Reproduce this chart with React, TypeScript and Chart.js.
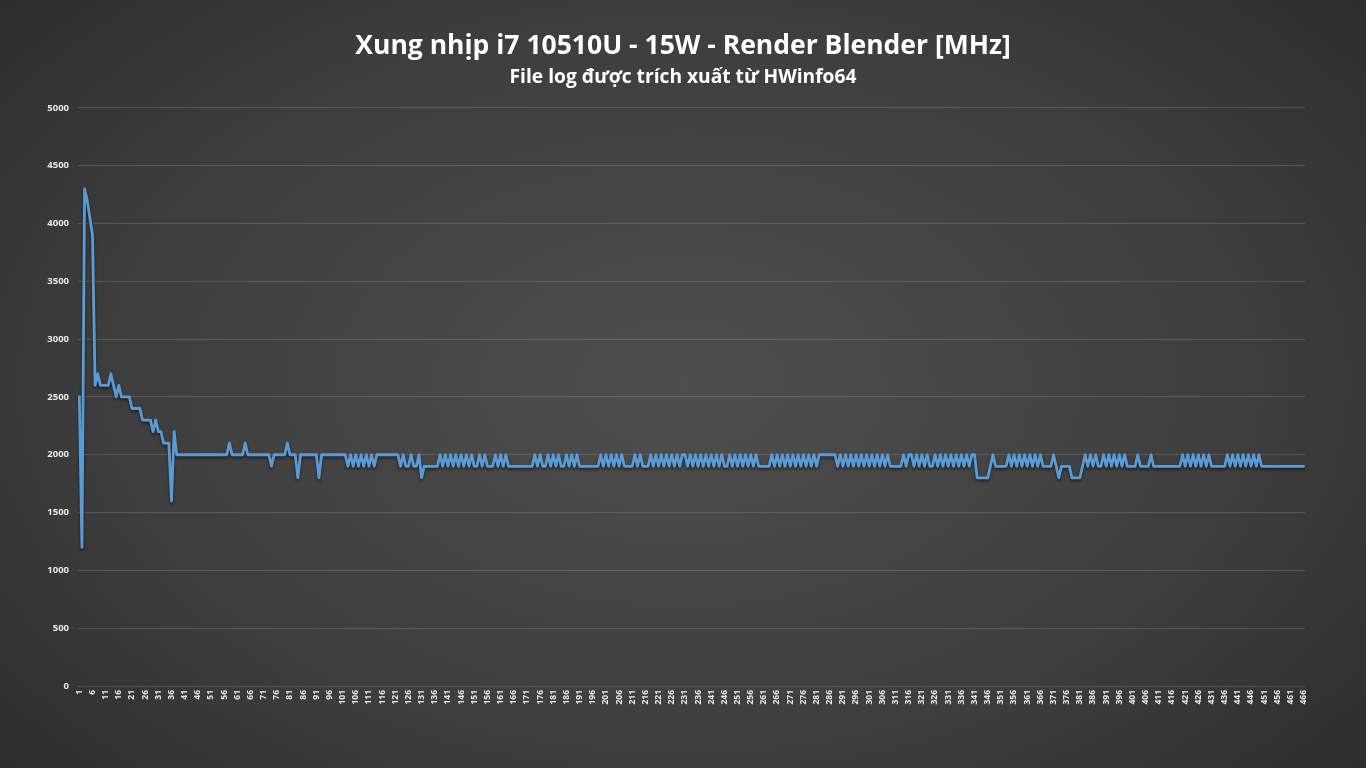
import React, { useEffect, useRef } from "react";
import { Chart, registerables } from "chart.js";

Chart.register(...registerables);

const chartTitle = "Xung nhịp i7 10510U - 15W - Render Blender [MHz]";
const chartSubtitle = "File log được trích xuất từ HWinfo64";

const yTicks = [0, 500, 1000, 1500, 2000, 2500, 3000, 3500, 4000, 4500, 5000];

// Core clock samples (MHz)
const clockBoost = [
  2500, 1200, 4300, 4200, 4050, 3900, 2600, 2700, 2600, 2600,
  2600, 2600, 2700, 2600, 2500, 2600, 2500, 2500, 2500, 2500,
  2400, 2400, 2400, 2400, 2300, 2300, 2300, 2300, 2200, 2300,
  2200, 2200, 2100, 2100, 2100, 1600, 2200, 2000, 2000, 2000,
];
const clockSettle = [
  2000, 2000, 2000, 2000, 2000, 2000, 2000, 2000, 2000, 2000,
  2000, 2000, 2000, 2000, 2000, 2000, 2000, 2100, 2000, 2000,
  2000, 2000, 2000, 2100, 2000, 2000, 2000, 2000, 2000, 2000,
  2000, 2000, 2000, 1900, 2000, 2000, 2000, 2000, 2000, 2100,
  2000, 2000, 2000, 1800, 2000, 2000, 2000, 2000, 2000, 2000,
  2000, 1800, 2000, 2000, 2000, 2000, 2000, 2000, 2000, 2000,
];
const clockPartC = [
  2000, 2000, 1900, 2000, 1900, 2000, 1900, 2000, 1900, 2000,
  1900, 2000, 1900, 2000, 2000, 2000, 2000, 2000, 2000, 2000,
  2000, 2000, 1900, 2000, 1900, 1900, 2000, 1900, 1900, 2000,
  1800, 1900, 1900, 1900, 1900, 1900, 1900, 2000, 1900, 2000,
  1900, 2000, 1900, 2000, 1900, 2000, 1900, 2000, 1900, 2000,
  1900, 1900, 2000, 1900, 2000, 1900, 1900, 1900, 2000, 1900,
];
const clockPartD = [
  2000, 1900, 2000, 1900, 1900, 1900, 1900, 1900, 1900, 1900,
  1900, 1900, 1900, 2000, 1900, 2000, 1900, 1900, 2000, 1900,
  2000, 1900, 2000, 1900, 1900, 2000, 1900, 2000, 1900, 2000,
  1900, 1900, 1900, 1900, 1900, 1900, 1900, 1900, 2000, 1900,
  2000, 1900, 2000, 1900, 2000, 1900, 2000, 1900, 1900, 1900,
  1900, 2000, 1900, 2000, 1900, 1900, 1900, 2000, 1900, 2000,
  1900, 2000, 1900, 2000, 1900, 2000, 1900, 2000, 1900, 2000,
  2000, 1900, 2000, 1900, 2000, 1900, 2000, 1900, 2000, 1900,
];
const clockPartE = [
  2000, 1900, 2000, 1900, 2000, 1900, 1900, 2000, 1900, 2000,
  1900, 2000, 1900, 2000, 1900, 2000, 1900, 2000, 1900, 1900,
  1900, 1900, 1900, 2000, 1900, 2000, 1900, 2000, 1900, 2000,
  1900, 2000, 1900, 2000, 1900, 2000, 1900, 2000, 1900, 2000,
  1900, 2000, 2000, 2000, 2000, 2000, 2000, 2000, 1900, 2000,
  1900, 2000, 1900, 2000, 1900, 2000, 1900, 2000, 1900, 2000,
];
const clockPartF = [
  1900, 2000, 1900, 2000, 1900, 2000, 1900, 2000, 1900, 1900,
  1900, 1900, 1900, 2000, 1900, 2000, 2000, 1900, 2000, 1900,
  2000, 1900, 2000, 1900, 1900, 2000, 1900, 2000, 1900, 2000,
  1900, 2000, 1900, 2000, 1900, 2000, 1900, 2000, 1900, 2000,
  2000, 1800, 1800, 1800, 1800, 1800, 1900, 2000, 1900, 1900,
  1900, 1900, 1900, 2000, 1900, 2000, 1900, 2000, 1900, 2000,
];
const clockPartG = [
  1900, 2000, 1900, 2000, 1900, 2000, 1900, 1900, 1900, 1900,
  2000, 1900, 1800, 1900, 1900, 1900, 1900, 1800, 1800, 1800,
  1800, 1900, 2000, 1900, 2000, 1900, 2000, 1900, 1900, 2000,
  1900, 2000, 1900, 2000, 1900, 2000, 1900, 2000, 1900, 1900,
  1900, 1900, 2000, 1900, 1900, 1900, 1900, 2000, 1900, 1900,
  1900, 1900, 1900, 1900, 1900, 1900, 1900, 1900, 1900, 2000,
];
const clockPartH = [
  1900, 2000, 1900, 2000, 1900, 2000, 1900, 2000, 1900, 2000,
  1900, 1900, 1900, 1900, 1900, 1900, 2000, 1900, 2000, 1900,
  2000, 1900, 2000, 1900, 2000, 1900, 2000, 1900, 2000, 1900,
  1900, 1900, 1900, 1900, 1900, 1900, 1900, 1900, 1900, 1900,
  1900, 1900, 1900, 1900, 1900, 1900,
];

const clockMHz = [
  ...clockBoost,
  ...clockSettle,
  ...clockPartC,
  ...clockPartD,
  ...clockPartE,
  ...clockPartF,
  ...clockPartG,
  ...clockPartH,
];
const sampleLabels = clockMHz.map((_, i) => String(i + 1));

const lineShadow = {
  id: "lineShadow",
  beforeDatasetsDraw(chart: any) {
    const ctx = chart.ctx;
    ctx.save();
    ctx.shadowColor = "rgba(0,0,0,0.55)";
    ctx.shadowBlur = 3;
    ctx.shadowOffsetX = 0;
    ctx.shadowOffsetY = 2;
  },
  afterDatasetsDraw(chart: any) {
    chart.ctx.restore();
  },
};

export default function App() {
  const canvasRef = useRef<HTMLCanvasElement | null>(null);

  useEffect(() => {
    document.body.style.margin = "0";
    const canvas = canvasRef.current;
    if (!canvas) return;
    Chart.defaults.font.family = "'Open Sans', 'DejaVu Sans', sans-serif";
    const chart = new Chart(canvas, {
      type: "line",
      data: {
        labels: sampleLabels,
        datasets: [
          {
            label: "Clock",
            data: clockMHz,
            borderColor: "#5B9BD5",
            borderWidth: 2.8,
            borderJoinStyle: "round",
            borderCapStyle: "round",
            pointRadius: 0,
            tension: 0,
            fill: false,
            yAxisID: "y",
          },
        ],
      },
      plugins: [lineShadow],
      options: {
        animation: false,
        responsive: false,
        maintainAspectRatio: false,
        layout: { padding: 0 },
        plugins: {
          legend: { display: false },
          tooltip: { enabled: false },
          title: {
            display: true,
            text: chartTitle,
            color: "#ffffff",
            font: { size: 26.5, weight: "bold", lineHeight: 1.2 },
            padding: { top: 31, bottom: 3 },
          },
          subtitle: {
            display: true,
            text: chartSubtitle,
            color: "#ffffff",
            font: { size: 19.2, weight: "bold", lineHeight: 1.2 },
            padding: { top: 0, bottom: 19 },
          },
        },
        scales: {
          x: {
            type: "category",
            offset: true,
            grid: { display: false, drawTicks: false },
            border: { display: false },
            ticks: {
              autoSkip: false,
              minRotation: 90,
              maxRotation: 90,
              padding: 4,
              color: "#e8e8e8",
              font: { size: 8.5, weight: "bold" },
              callback: (_v: any, idx: number) =>
                idx % 5 === 0 ? sampleLabels[idx] : null,
            },
            afterFit: (scale: any) => {
              scale.height = 82;
            },
          },
          y: {
            position: "left",
            min: yTicks[0],
            max: yTicks[yTicks.length - 1],
            afterBuildTicks: (scale: any) => {
              scale.ticks = yTicks.map((v) => ({ value: v }));
            },
            grid: {
              color: "rgba(255,255,255,0.14)",
              lineWidth: 1,
              drawTicks: false,
            },
            border: { display: false },
            ticks: {
              padding: 9,
              color: "#e8e8e8",
              font: { size: 9.5, weight: "bold" },
              callback: (v: any) => String(v),
            },
            afterFit: (scale: any) => {
              scale.width = 78;
            },
          },
          yRight: {
            type: "linear",
            position: "right",
            display: true,
            grid: { display: false, drawTicks: false },
            border: { display: false },
            ticks: { display: false },
            afterFit: (scale: any) => {
              scale.width = 61;
            },
          },
        },
      },
    });
    return () => chart.destroy();
  }, []);

  return (
    <div
      style={{
        position: "absolute",
        left: 0,
        top: 0,
        width: 1366,
        height: 768,
        background:
          "radial-gradient(ellipse 75% 85% at 50% 50%, #4e4e4e 0%, #3e3e3e 55%, #282828 100%)",
      }}
    >
      <canvas ref={canvasRef} width={1366} height={768} />
    </div>
  );
}
